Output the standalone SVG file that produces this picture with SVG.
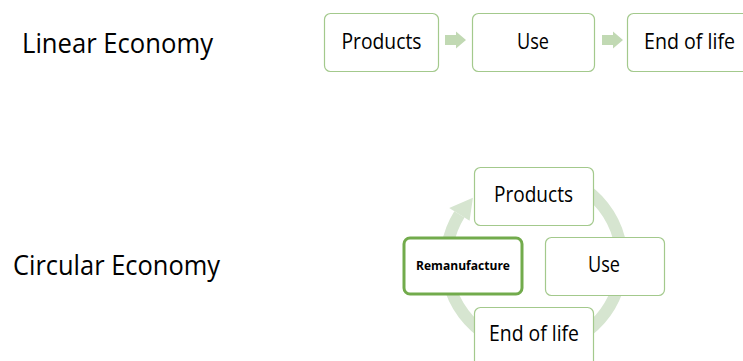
<svg xmlns="http://www.w3.org/2000/svg" width="743" height="361" viewBox="0 0 743 361">
  <style>
    .box { fill: #ffffff; stroke: #a3c98c; stroke-width: 1.2; }
    .box-strong { fill: #ffffff; stroke: #72ab4c; stroke-width: 3; }
    .title { font-family: "Open Sans", "Liberation Sans", sans-serif; font-size: 27.5px; fill: #000000; }
    .label { font-family: "Open Sans", "Liberation Sans", sans-serif; font-size: 21px; fill: #000000; text-anchor: middle; }
    .label-bold { font-family: "Open Sans", "Liberation Sans", sans-serif; font-size: 13px; font-weight: bold; fill: #000000; text-anchor: middle; }
    .flow { fill: #c1d9b3; }
    .ring { fill: none; stroke: #d6e5d0; stroke-width: 12; }
    .ring-head { fill: #d6e5d0; }
  </style>
  <defs>
    <path id="block-arrow" d="M0 -5 H11 V-8.5 L21 0 L11 8.5 V5 H0 Z"/>
  </defs>

  <rect width="743" height="361" fill="#ffffff"/>

  <!-- section titles -->
  <g id="title-linear">
    <text class="title" x="22" y="53" textLength="191" lengthAdjust="spacingAndGlyphs">Linear Economy</text>
  </g>
  <g id="title-circular">
    <text class="title" x="13" y="275" textLength="207" lengthAdjust="spacingAndGlyphs">Circular Economy</text>
  </g>

  <!-- connectors: linear flow arrows and the cycle ring -->
  <g id="connectors">
    <use href="#block-arrow" class="flow" x="445" y="40"/>
    <use href="#block-arrow" class="flow" x="602" y="40"/>
    <path class="ring" d="M578 184.8 A88 88 0 1 1 459.4 214.4"/>
    <polygon class="ring-head" points="449.2,208 469.6,220.7 472.9,197.7"/>
  </g>

  <!-- linear economy nodes -->
  <g id="lin-products">
    <rect class="box" x="324.5" y="13.5" width="114" height="58" rx="6"/>
    <text class="label" x="381.5" y="49" textLength="80" lengthAdjust="spacingAndGlyphs">Products</text>
  </g>
  <g id="lin-use">
    <rect class="box" x="472.5" y="13.5" width="122" height="58" rx="6"/>
    <text class="label" x="533" y="49" textLength="32" lengthAdjust="spacingAndGlyphs">Use</text>
  </g>
  <g id="lin-end">
    <rect class="box" x="627.5" y="13.5" width="124" height="58" rx="6"/>
    <text class="label" x="689.5" y="49" textLength="91" lengthAdjust="spacingAndGlyphs">End of life</text>
  </g>

  <!-- circular economy nodes -->
  <g id="circ-products">
    <rect class="box" x="474.5" y="167.5" width="119" height="58" rx="6"/>
    <text class="label" x="533.5" y="202" textLength="79" lengthAdjust="spacingAndGlyphs">Products</text>
  </g>
  <g id="circ-use">
    <rect class="box" x="545.5" y="237.5" width="119" height="58" rx="6"/>
    <text class="label" x="604" y="272" textLength="32" lengthAdjust="spacingAndGlyphs">Use</text>
  </g>
  <g id="circ-end">
    <rect class="box" x="474.5" y="307.5" width="119" height="62" rx="6"/>
    <text class="label" x="534" y="341" textLength="90" lengthAdjust="spacingAndGlyphs">End of life</text>
  </g>
  <g id="circ-remanufacture">
    <rect class="box-strong" x="404" y="238" width="118" height="56" rx="6"/>
    <text class="label-bold" x="463" y="270" textLength="94" lengthAdjust="spacingAndGlyphs">Remanufacture</text>
  </g>
</svg>
